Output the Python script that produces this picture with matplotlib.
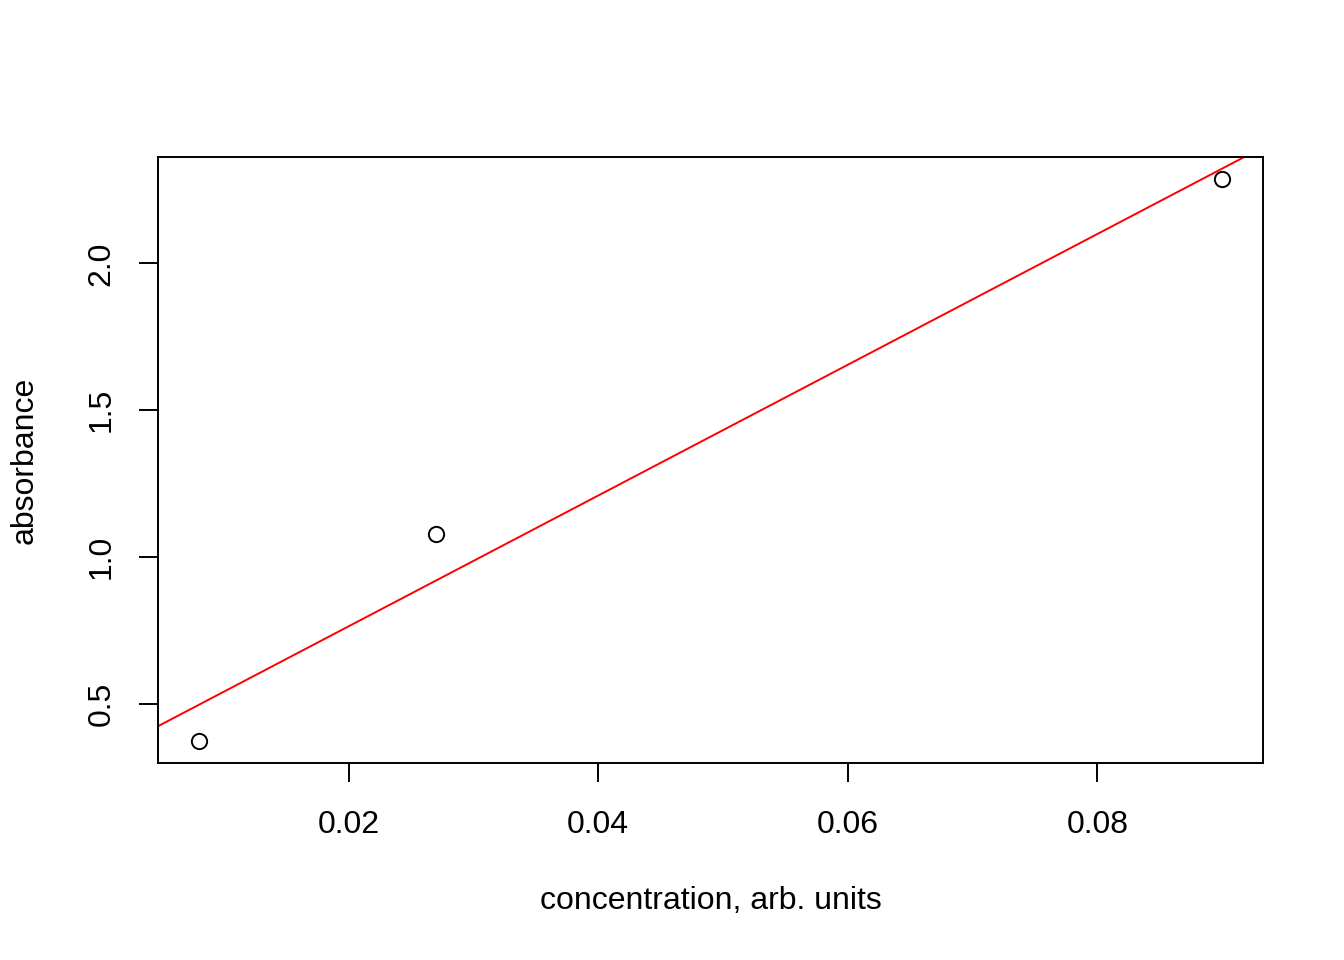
import numpy as np
import matplotlib
matplotlib.use("Agg")
import matplotlib.pyplot as plt

plt.rcParams['font.family'] = ['Liberation Sans', 'DejaVu Sans']

# data
concentration = [0.008, 0.027, 0.090]
absorbance = [0.374, 1.078, 2.286]
x_ticks = [0.02, 0.04, 0.06, 0.08]
y_ticks = [0.5, 1.0, 1.5, 2.0]

W, H = 1344, 960
fig = plt.figure(figsize=(W / 100, H / 100), dpi=100)
ax = fig.add_axes([158 / W, 1 - 763 / H, (1263 - 158) / W, (763 - 157) / H])

# linear fit, like abline(lm(...))
slope, intercept = np.polyfit(concentration, absorbance, 1)

xmin, xmax = min(concentration), max(concentration)
ymin, ymax = min(absorbance), max(absorbance)
dx = 0.04 * (xmax - xmin)
dy = 0.04 * (ymax - ymin)
ax.set_xlim(xmin - dx, xmax + dx)
ax.set_ylim(ymin - dy, ymax + dy)

ax.plot(concentration, absorbance, 'o', mfc='none', mec='black', ms=11, mew=1.4)
xx = np.array([xmin - dx, xmax + dx])
ax.plot(xx, intercept + slope * xx, color='#ff0000', lw=1.4)

ax.set_xticks(x_ticks)
ax.set_xticklabels([f"{v:.2f}" for v in x_ticks])
ax.set_yticks(y_ticks)
ax.set_yticklabels([f"{v:.1f}" for v in y_ticks], rotation=90, va='center')

for s in ax.spines.values():
    s.set_linewidth(1.4)
ax.tick_params(axis='both', length=14, width=1.4, labelsize=23)
ax.tick_params(axis='x', pad=20)
ax.tick_params(axis='y', pad=16)

fig.text(710.5 / W, 1 - 901 / H, "concentration, arb. units", ha='center', va='center', fontsize=23)
fig.text(25 / W, 1 - 460 / H, "absorbance", ha='center', va='center', rotation=90, fontsize=23)

fig.savefig("out.png", dpi=100)
